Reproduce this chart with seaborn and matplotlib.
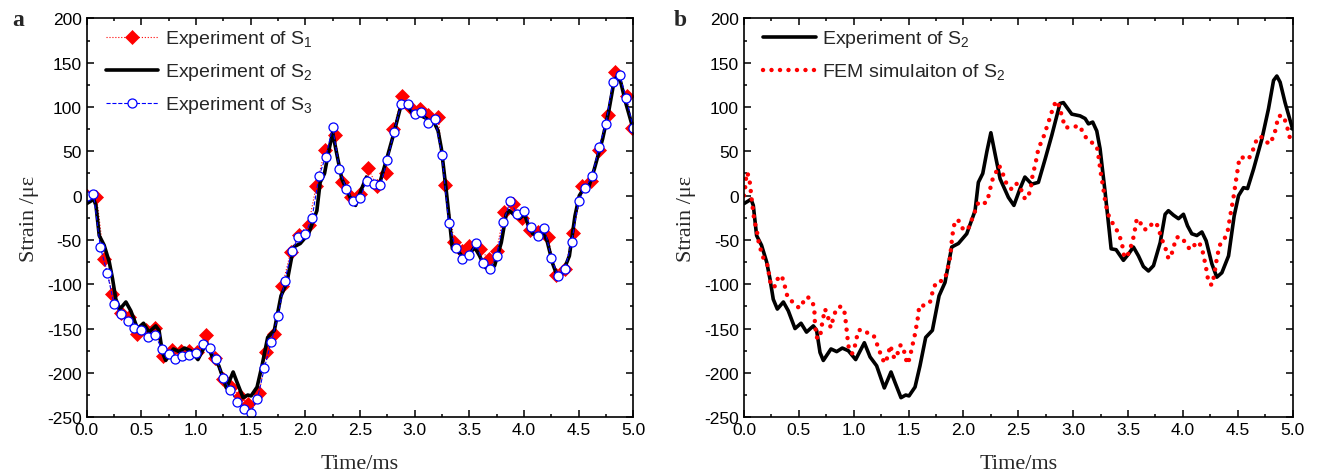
import numpy as np
import pandas as pd
import matplotlib
matplotlib.use('Agg')
import matplotlib.pyplot as plt
import seaborn as sns
from matplotlib.ticker import MultipleLocator, AutoMinorLocator

# ---- data (time in ms, strain in micro-strain) ----
s1_t = [0.0, 0.09, 0.16, 0.235, 0.31, 0.39, 0.46, 0.54, 0.625, 0.70, 0.78, 0.86, 0.94, 1.01,
        1.09, 1.17, 1.245, 1.32, 1.40, 1.478, 1.58, 1.64, 1.715, 1.79, 1.865, 1.94, 2.03, 2.10,
        2.18, 2.27, 2.34, 2.42, 2.50, 2.576, 2.652, 2.735, 2.805, 2.887, 2.966, 3.049, 3.125,
        3.216, 3.277, 3.363, 3.43, 3.497, 3.598, 3.68, 3.75, 3.82, 3.90, 3.98, 4.055, 4.125,
        4.223, 4.29, 4.375, 4.45, 4.534, 4.613, 4.686, 4.765, 4.832, 4.939, 4.99]
s1_v = [0, -1, -72, -111, -132, -137, -156, -152, -149, -181, -174, -175, -175, -176,
        -157, -183, -207, -216, -226, -235, -223, -177, -156, -102, -64, -44, -33, 11,
        51, 68, 15, -2, 2, 31, 11, 26, 75, 112, 99, 98, 91,
        89, 12, -52, -63, -57, -60, -72, -62, -18, -9, -25, -39, -41,
        -47, -90, -83, -42, 11, 16, 51, 91, 139, 113, 76]

s3_t = [0.0, 0.0625, 0.125, 0.1875, 0.25, 0.3125, 0.375, 0.4375, 0.5, 0.5625, 0.625, 0.6875,
        0.75, 0.8125, 0.875, 0.9375, 1.0, 1.0625, 1.125, 1.1875, 1.25, 1.3125, 1.375, 1.4375,
        1.5, 1.5625, 1.625, 1.6875, 1.75, 1.8125, 1.875, 1.9375, 2.0, 2.0625, 2.125, 2.1875,
        2.25, 2.3125, 2.375, 2.4375, 2.5, 2.5625, 2.625, 2.6875, 2.75, 2.8125, 2.875, 2.9375,
        3.0, 3.0625, 3.125, 3.1875, 3.25, 3.3125, 3.375, 3.4375, 3.5, 3.5625, 3.625, 3.6875,
        3.75, 3.8125, 3.875, 3.9375, 4.0, 4.0625, 4.125, 4.1875, 4.25, 4.3125, 4.375, 4.4375,
        4.5, 4.5625, 4.625, 4.6875, 4.75, 4.8125, 4.875, 4.9375, 5.0]
s3_v = [0, 2, -58, -87, -122, -134, -142, -149, -152, -160, -157, -173,
        -179, -184, -181, -180, -178, -167, -172, -184, -206, -219, -233, -241,
        -245, -229, -195, -165, -136, -96, -63, -47, -43, -25, 22, 44,
        77, 30, 7.5, -6, -3, 17, 13, 12, 40, 72, 103, 103,
        92, 94, 82, 86, 46, -31, -59, -71, -67, -54, -76, -83,
        -68, -30, -6, -21, -17, -35, -46, -36, -70, -91, -83, -52,
        -6, 9, 22, 55, 81, 128, 136, 110, 76]

s2_t = [0.0, 0.04, 0.064, 0.085, 0.115, 0.16, 0.207, 0.237, 0.267, 0.304, 0.359, 0.404,
        0.465, 0.52, 0.57, 0.632, 0.662, 0.693, 0.723, 0.793, 0.845, 0.896, 0.951, 1.018,
        1.097, 1.149, 1.209, 1.279, 1.34, 1.377, 1.431, 1.474, 1.504, 1.559, 1.604, 1.656,
        1.717, 1.778, 1.832, 1.893, 1.954, 2.03, 2.106, 2.136, 2.176, 2.214, 2.25, 2.29,
        2.334, 2.41, 2.46, 2.516, 2.56, 2.622, 2.683, 2.744, 2.805, 2.88, 2.911, 2.987,
        3.063, 3.109, 3.139, 3.178, 3.215, 3.245, 3.291, 3.33, 3.346, 3.391, 3.458, 3.504,
        3.549, 3.595, 3.64, 3.686, 3.732, 3.793, 3.838, 3.868, 3.914, 3.96, 4.005, 4.042,
        4.081, 4.127, 4.173, 4.212, 4.264, 4.309, 4.355, 4.416, 4.467, 4.507, 4.552, 4.589,
        4.644, 4.72, 4.78, 4.826, 4.856, 4.886, 4.931, 5.0]
s2_v = [-9, -6, -4, -11, -45, -56, -75, -94, -117, -128, -120, -130,
        -150, -144, -154, -147, -152, -177, -186, -173, -176, -172, -175, -185,
        -166, -182, -192, -217, -199, -211, -228, -225, -226, -216, -192, -160,
        -152, -113, -98, -58, -54, -43, -17, 15, 25, 50, 71, 46,
        19, -2, -11, 8, 21, 13, 15, 41, 68, 104, 105, 92,
        90, 87, 81, 83, 73, 53, 4, -41, -60, -61, -73, -66,
        -58, -68, -80, -85, -79, -53, -21, -17, -22, -26, -21, -34,
        -43, -45, -41, -51, -77, -92, -87, -68, -23, 0, 9, 8,
        30, 64, 98, 130, 135, 128, 105, 75]

fem_t = [0.0, 0.01, 0.024, 0.046, 0.055, 0.07, 0.094, 0.115, 0.137, 0.176, 0.216, 0.237,
         0.252, 0.289, 0.307, 0.343, 0.368, 0.398, 0.453, 0.504, 0.541, 0.577, 0.623, 0.641,
         0.647, 0.662, 0.693, 0.702, 0.714, 0.738, 0.76, 0.79, 0.808, 0.83, 0.869, 0.909,
         0.921, 0.936, 0.951, 0.967, 0.988, 1.012, 1.042, 1.082, 1.127, 1.179, 1.209, 1.225,
         1.255, 1.279, 1.3, 1.322, 1.331, 1.352, 1.37, 1.4, 1.422, 1.443, 1.462, 1.477,
         1.492, 1.513, 1.528, 1.559, 1.583, 1.598, 1.656, 1.696, 1.726, 1.756, 1.817, 1.847,
         1.878, 1.899, 1.923, 1.954, 1.993, 2.039, 2.06, 2.09, 2.136, 2.176, 2.218, 2.236,
         2.267, 2.303, 2.325, 2.349, 2.394, 2.434, 2.47, 2.51, 2.54, 2.562, 2.592, 2.613,
         2.631, 2.653, 2.683, 2.729, 2.775, 2.814, 2.844, 2.865, 2.89, 2.926, 2.987, 3.057,
         3.087, 3.124, 3.169, 3.215, 3.23, 3.251, 3.275, 3.291, 3.312, 3.336, 3.373, 3.412,
         3.443, 3.464, 3.488, 3.513, 3.54, 3.555, 3.58, 3.61, 3.64, 3.686, 3.726, 3.762,
         3.787, 3.814, 3.838, 3.868, 3.893, 3.914, 3.944, 3.99, 4.03, 4.066, 4.103, 4.142,
         4.173, 4.194, 4.218, 4.233, 4.264, 4.285, 4.309, 4.334, 4.37, 4.407, 4.431, 4.461,
         4.486, 4.516, 4.552, 4.598, 4.637, 4.68, 4.72, 4.75, 4.78, 4.82, 4.841, 4.871,
         4.917, 4.947, 4.977, 5.0]
fem_v = [0, 8, 26, 22, 13, -4, -28, -38, -55, -70, -79, -96,
         -103, -102, -94, -90, -100, -115, -121, -127, -120, -114, -119, -128,
         -145, -160, -161, -152, -143, -128, -134, -149, -141, -132, -125, -127,
         -135, -152, -169, -177, -178, -169, -152, -151, -155, -157, -166, -173,
         -181, -189, -185, -175, -169, -176, -184, -178, -169, -169, -177, -185,
         -190, -182, -173, -156, -139, -124, -124, -120, -105, -97, -96, -88,
         -70, -45, -28, -28, -37, -39, -32, -23, -7.5, -9.4, -6.8, 4,
         19, 28, 34, 28, 13, 7.5, 14, 12, 2, -4, 0, 7.5,
         24, 34, 53, 66, 83, 98, 107, 103, 93, 77, 77, 79,
         72, 64, 60, 56, 45, 26, 8, -5.6, -19, -26, -34, -42,
         -53, -68, -70, -62, -52, -44, -26, -30, -38, -38, -30, -32,
         -41, -51, -58, -71, -68, -58, -47, -47, -55, -61, -56, -52,
         -59, -71, -86, -98, -101, -90, -71, -56, -51, -41, -23, -2,
         19, 43, 43, 41, 51, 66, 66, 64, 58, 65, 73, 90,
         90, 79, 64, 66]

s1_label = 'Experiment of S$_\\mathregular{1}$'
s2_label = 'Experiment of S$_\\mathregular{2}$'
s3_label = 'Experiment of S$_\\mathregular{3}$'
fem_label = 'FEM simulaiton of S$_\\mathregular{2}$'

# ---- style ----
sns.set_theme(style='ticks')
plt.rcParams['font.family'] = ['Liberation Sans', 'DejaVu Sans']
plt.rcParams['axes.unicode_minus'] = False
plt.rcParams['axes.linewidth'] = 1.2
plt.rcParams['axes.edgecolor'] = 'black'

fig = plt.figure(figsize=(13.17, 4.77), dpi=100)
ax_a = fig.add_axes([0.0658, 0.1233, 0.415, 0.836])
ax_b = fig.add_axes([0.5649, 0.1233, 0.4166, 0.836])

# panel a
sns.lineplot(x=s1_t, y=s1_v, ax=ax_a, sort=False, estimator=None, color='red',
             linestyle=':', linewidth=0.8, marker='D', markersize=7,
             markerfacecolor='red', markeredgecolor='red', markeredgewidth=0.5, label=s1_label)
sns.lineplot(x=s2_t, y=s2_v, ax=ax_a, sort=False, estimator=None, color='black',
             linewidth=2.6, solid_joinstyle='round', label=s2_label)
sns.lineplot(x=s3_t, y=s3_v, ax=ax_a, sort=False, estimator=None, color='blue',
             linestyle='--', linewidth=0.8, marker='o', markersize=6.5,
             markerfacecolor='white', markeredgecolor='blue', markeredgewidth=0.9, label=s3_label)

# panel b
sns.lineplot(x=s2_t, y=s2_v, ax=ax_b, sort=False, estimator=None, color='black',
             linewidth=2.6, solid_joinstyle='round', label=s2_label)
sns.lineplot(x=fem_t, y=fem_v, ax=ax_b, sort=False, estimator=None, color='red',
             linewidth=3.2, linestyle=(0, (0.01, 1.9)), dash_capstyle='round', label=fem_label)

for ax in (ax_a, ax_b):
    ax.set_xlim(0, 5)
    ax.set_ylim(-250, 200)
    ax.xaxis.set_major_locator(MultipleLocator(0.5))
    ax.yaxis.set_major_locator(MultipleLocator(50))
    ax.xaxis.set_minor_locator(AutoMinorLocator(2))
    ax.yaxis.set_minor_locator(AutoMinorLocator(2))
    ax.tick_params(which='both', direction='in', top=True, right=True, width=1.1,
                   colors='black', labelsize=12.5)
    ax.tick_params(which='major', length=5)
    ax.tick_params(which='minor', length=2.5)
    ax.xaxis.set_major_formatter(matplotlib.ticker.FormatStrFormatter('%.1f'))
    ax.set_xlabel('Time/ms', family='Liberation Serif', fontsize=16, labelpad=12)
    ax.set_ylabel('Strain /\u03bc\u03b5', family='Liberation Serif', fontsize=16, labelpad=6)
    ax.legend(loc='upper left', bbox_to_anchor=(0.035, 0.975), frameon=False, fontsize=14,
              handlelength=2.7, handletextpad=0.35, labelspacing=0.62, borderaxespad=0,
              borderpad=0)

fig.text(18 / 1317, 1 - 20 / 477, 'a', family='Liberation Serif', fontweight='bold',
         fontsize=17, ha='center', va='center')
fig.text(680 / 1317, 1 - 20 / 477, 'b', family='Liberation Serif', fontweight='bold',
         fontsize=17, ha='center', va='center')

fig.savefig('out.png', dpi=100)
